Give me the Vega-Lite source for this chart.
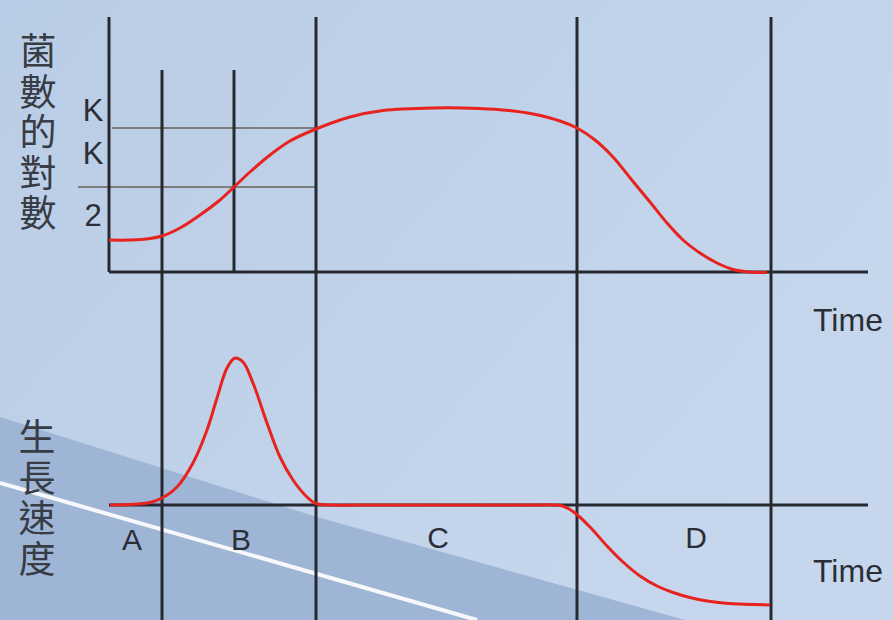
{
  "$schema": "https://vega.github.io/schema/vega-lite/v6.json",
  "width": 893,
  "height": 620,
  "autosize": {"type": "none"},
  "padding": 0,
  "background": "#c0d2ea",
  "config": {"view": {"stroke": null}, "font": "Liberation Sans"},
  "datasets": {
    "bg": [{"t": -10.9, "t2": 78.4, "v": 0, "v2": 62}],
    "band": [
      {"t": -10.9, "v": 20.3, "v2": 0},
      {"t": 20.8, "v": 10.3, "v2": 0},
      {"t": 57.6, "v": 0, "v2": 0}
    ],
    "glare": [{"t": -10.9, "v": 13.7}, {"t": 36.8, "v": 0}],
    "vlines": [
      {"t": 0, "v": 60.3, "v2": 34.8},
      {"t": 5.3, "v": 55, "v2": 0},
      {"t": 12.5, "v": 55, "v2": 34.8},
      {"t": 20.7, "v": 60.3, "v2": 0},
      {"t": 46.8, "v": 60.3, "v2": 0},
      {"t": 66.2, "v": 60.3, "v2": 0}
    ],
    "hlines": [
      {"t": 0, "t2": 75.9, "v": 34.8},
      {"t": 0, "t2": 75.9, "v": 11.5}
    ],
    "guides": [
      {"t": 0.3, "t2": 20.7, "v": 49.2},
      {"t": -3.1, "t2": 20.7, "v": 43.3}
    ],
    "logcount": [
      {"t": 0, "v": 38.0},
      {"t": 2.1, "v": 38.0},
      {"t": 4.1, "v": 38.15},
      {"t": 5.3, "v": 38.4},
      {"t": 7.1, "v": 39.2},
      {"t": 9.1, "v": 40.5},
      {"t": 11.1, "v": 42.0},
      {"t": 12.5, "v": 43.3},
      {"t": 14.1, "v": 44.8},
      {"t": 16.1, "v": 46.5},
      {"t": 18.1, "v": 47.9},
      {"t": 20.7, "v": 49.1},
      {"t": 24.1, "v": 50.3},
      {"t": 27.4, "v": 50.95},
      {"t": 32.4, "v": 51.2},
      {"t": 37.0, "v": 51.15},
      {"t": 40.0, "v": 50.95},
      {"t": 42.4, "v": 50.6},
      {"t": 45.1, "v": 49.9},
      {"t": 46.8, "v": 49.2},
      {"t": 48.6, "v": 48.0},
      {"t": 50.4, "v": 46.3},
      {"t": 52.2, "v": 44.1},
      {"t": 54.1, "v": 41.8},
      {"t": 55.8, "v": 39.7},
      {"t": 57.4, "v": 38.0},
      {"t": 59.1, "v": 36.7},
      {"t": 60.8, "v": 35.7},
      {"t": 62.4, "v": 35.05},
      {"t": 64.1, "v": 34.8},
      {"t": 65.8, "v": 34.75}
    ],
    "rate": [
      {"t": 0.1, "v": 11.5},
      {"t": 2.1, "v": 11.55},
      {"t": 4.1, "v": 11.75},
      {"t": 5.3, "v": 12.2},
      {"t": 6.8, "v": 13.3},
      {"t": 8.4, "v": 15.7},
      {"t": 9.8, "v": 19.0},
      {"t": 10.8, "v": 22.2},
      {"t": 11.8, "v": 25.2},
      {"t": 12.6, "v": 26.2},
      {"t": 13.4, "v": 25.8},
      {"t": 14.4, "v": 23.7},
      {"t": 15.8, "v": 19.7},
      {"t": 17.1, "v": 16.3},
      {"t": 18.4, "v": 14.0},
      {"t": 19.8, "v": 12.3},
      {"t": 20.7, "v": 11.65},
      {"t": 22.4, "v": 11.5},
      {"t": 26.0, "v": 11.5},
      {"t": 30.0, "v": 11.5},
      {"t": 34.0, "v": 11.5},
      {"t": 38.0, "v": 11.5},
      {"t": 42.0, "v": 11.5},
      {"t": 44.6, "v": 11.5},
      {"t": 45.5, "v": 11.35},
      {"t": 46.6, "v": 10.7},
      {"t": 48.1, "v": 9.3},
      {"t": 49.8, "v": 7.4},
      {"t": 51.4, "v": 5.8},
      {"t": 53.1, "v": 4.4},
      {"t": 54.8, "v": 3.4},
      {"t": 56.4, "v": 2.75},
      {"t": 58.1, "v": 2.25},
      {"t": 59.8, "v": 1.9},
      {"t": 61.4, "v": 1.7},
      {"t": 63.1, "v": 1.6},
      {"t": 66.1, "v": 1.5}
    ],
    "klabels": [
      {"t": -1.6, "v": 50.8, "label": "K"},
      {"t": -1.6, "v": 46.5, "label": "K"},
      {"t": -1.6, "v": 40.3, "label": "2"}
    ],
    "phases": [
      {"t": 2.3, "v": 7.9, "label": "A"},
      {"t": 13.2, "v": 7.9, "label": "B"},
      {"t": 32.9, "v": 8.1, "label": "C"},
      {"t": 58.7, "v": 8.1, "label": "D"}
    ],
    "timelabels": [
      {"t": 70.4, "v": 29.9, "label": "Time"},
      {"t": 70.4, "v": 4.8, "label": "Time"}
    ],
    "ylabels": [
      {"t": -7.1, "v": 56.6, "label": "菌\n數\n的\n對\n數"},
      {"t": -7.2, "v": 18.0, "label": "生\n長\n速\n度"}
    ]
  },
  "encoding": {
    "x": {"field": "t", "type": "quantitative", "scale": {"domain": [-10.9, 78.4], "nice": false, "zero": false}, "axis": null},
    "y": {"field": "v", "type": "quantitative", "scale": {"domain": [0, 62], "nice": false, "zero": false}, "axis": null}
  },
  "layer": [
    {
      "data": {"name": "bg"},
      "mark": {"type": "rect", "color": {"gradient": "linear", "x1": 0, "y1": 0, "x2": 1, "y2": 0.6, "stops": [{"offset": 0, "color": "#bacde6"}, {"offset": 1, "color": "#c6d7ed"}]}},
      "encoding": {"x2": {"field": "t2"}, "y2": {"field": "v2"}}
    },
    {
      "data": {"name": "band"},
      "mark": {"type": "area", "color": "#9eb5d6", "interpolate": "linear"},
      "encoding": {"y2": {"field": "v2"}}
    },
    {
      "data": {"name": "glare"},
      "mark": {"type": "line", "color": "#ffffff", "strokeWidth": 4, "opacity": 0.9}
    },
    {
      "data": {"name": "guides"},
      "mark": {"type": "rule", "color": "#7d7d7d", "strokeWidth": 2.2},
      "encoding": {"x2": {"field": "t2"}}
    },
    {
      "data": {"name": "vlines"},
      "mark": {"type": "rule", "color": "#262a30", "strokeWidth": 3},
      "encoding": {"y2": {"field": "v2"}}
    },
    {
      "data": {"name": "hlines"},
      "mark": {"type": "rule", "color": "#262a30", "strokeWidth": 3},
      "encoding": {"x2": {"field": "t2"}}
    },
    {
      "data": {"name": "logcount"},
      "mark": {"type": "line", "color": "#e8231f", "strokeWidth": 3, "interpolate": "catmull-rom"}
    },
    {
      "data": {"name": "rate"},
      "mark": {"type": "line", "color": "#e8231f", "strokeWidth": 3, "interpolate": "catmull-rom"}
    },
    {
      "data": {"name": "klabels"},
      "mark": {"type": "text", "fontSize": 31, "color": "#2b2f35", "align": "center", "baseline": "middle"},
      "encoding": {"text": {"field": "label"}}
    },
    {
      "data": {"name": "phases"},
      "mark": {"type": "text", "fontSize": 30, "color": "#2b2f35", "align": "center", "baseline": "middle"},
      "encoding": {"text": {"field": "label"}}
    },
    {
      "data": {"name": "timelabels"},
      "mark": {"type": "text", "fontSize": 32, "color": "#2b2f35", "align": "left", "baseline": "middle"},
      "encoding": {"text": {"field": "label"}}
    },
    {
      "data": {"name": "ylabels"},
      "mark": {"type": "text", "fontSize": 37, "font": "Noto Sans CJK TC", "color": "#383c44", "align": "center", "baseline": "middle", "lineBreak": "\n", "lineHeight": 40.5},
      "encoding": {"text": {"field": "label"}}
    }
  ]
}
